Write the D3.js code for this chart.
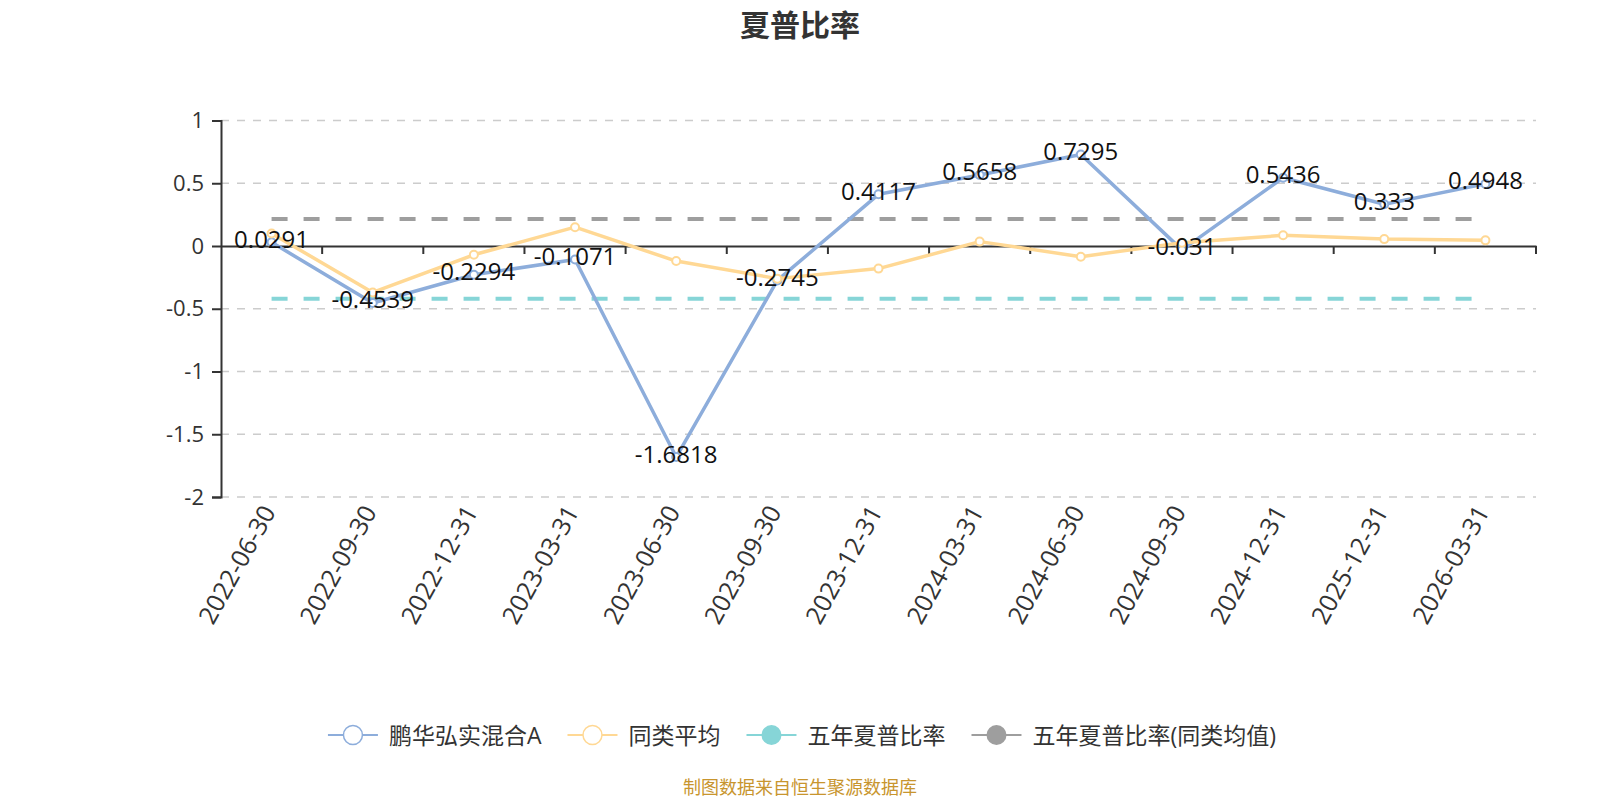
<!DOCTYPE html>
<html>
<head>
<meta charset="utf-8">
<script src="https://cdn.jsdelivr.net/npm/d3@7"></script>
<style>
  html, body { margin: 0; padding: 0; background: #fff; }
  svg { display: block; font-family: "Open Sans", "Noto Sans CJK SC", sans-serif; }
</style>
</head>
<body>
<svg id="chart" width="1600" height="800"></svg>
<script>
// ---- data ----
const categories = ["2022-06-30","2022-09-30","2022-12-31","2023-03-31","2023-06-30","2023-09-30","2023-12-31","2024-03-31","2024-06-30","2024-09-30","2024-12-31","2025-12-31","2026-03-31"];
const fundValues = [0.0291,-0.4539,-0.2294,-0.1071,-1.6818,-0.2745,0.4117,0.5658,0.7295,-0.031,0.5436,0.333,0.4948];
const peerAvgValues = [0.10,-0.37,-0.07,0.15,-0.12,-0.26,-0.18,0.035,-0.085,0.026,0.085,0.055,0.045];
const fiveYearSharpe = -0.42;
const fiveYearPeerSharpe = 0.215;
const yTicks = [-2,-1.5,-1,-0.5,0,0.5,1];
const seriesNames = ["鹏华弘实混合A","同类平均","五年夏普比率","五年夏普比率(同类均值)"];
const titleText = "夏普比率";
const footerText = "制图数据来自恒生聚源数据库";

// ---- styles ----
const colors = { fund: "#8DADDB", peer: "#FFD894", five: "#86D5D7", fivePeer: "#9E9E9E" };
const svg = d3.select("#chart");
const plotL = 221, plotR = 1536, plotT = 120.5, plotB = 497;

const x = d3.scaleBand().domain(categories).range([plotL, plotR]).padding(0);
const cx = d => x(d) + x.bandwidth() / 2;
const y = d3.scaleLinear().domain([-2, 1]).range([plotB, plotT]);

// title
svg.append("text").attr("x", 800).attr("y", 23)
  .attr("text-anchor", "middle").attr("dominant-baseline", "central")
  .attr("font-size", 30).attr("font-weight", "bold").attr("fill", "#333")
  .attr("font-family", "'Noto Sans CJK SC', sans-serif")
  .text(titleText);

// grid
svg.append("g").selectAll("line").data(yTicks.filter(v => v !== 0)).join("line")
  .attr("x1", plotL).attr("x2", plotR)
  .attr("y1", d => y(d)).attr("y2", d => y(d))
  .attr("stroke", "#cccccc").attr("stroke-width", 1.5).attr("stroke-dasharray", "8,8");

// y axis
const yAxis = d3.axisLeft(y).tickValues(yTicks).tickSize(9).tickPadding(8)
  .tickFormat(d => String(d));
const gy = svg.append("g").attr("transform", `translate(${plotL},0)`).call(yAxis);
gy.select(".domain").attr("stroke", "#333").attr("stroke-width", 2);
gy.selectAll(".tick line").attr("stroke", "#333").attr("stroke-width", 2);
gy.selectAll(".tick text").attr("font-size", 22).attr("fill", "#333")
  .attr("font-family", "'Open Sans', sans-serif");

// x axis at zero
const xAxis = d3.axisBottom(x).tickSize(0).tickFormat("");
const gx = svg.append("g").attr("transform", `translate(0,${y(0)})`).call(xAxis);
gx.select(".domain").attr("stroke", "#333").attr("stroke-width", 2);
const boundaries = categories.map(c => x(c)).concat([plotR]);
gx.append("g").selectAll("line").data(boundaries.slice(1)).join("line")
  .attr("x1", d => d).attr("x2", d => d).attr("y1", 0).attr("y2", 8)
  .attr("stroke", "#333").attr("stroke-width", 2);

// x labels (rotated) below the plot
svg.append("g").selectAll("text").data(categories).join("text")
  .attr("transform", d => `translate(${cx(d) - 4},${plotB + 10}) rotate(-61)`)
  .attr("text-anchor", "end").attr("dominant-baseline", "central")
  .attr("font-size", 25).attr("fill", "#333")
  .attr("font-family", "'Open Sans', sans-serif")
  .text(d => d);

// reference dashed lines
const flat = v => categories.map(c => ({ c, v }));
const line = d3.line().x(d => cx(d.c)).y(d => y(d.v));
svg.append("path").datum(flat(fiveYearSharpe)).attr("d", line)
  .attr("fill", "none").attr("stroke", colors.five).attr("stroke-width", 4).attr("stroke-dasharray", "16,16");
svg.append("path").datum(flat(fiveYearPeerSharpe)).attr("d", line)
  .attr("fill", "none").attr("stroke", colors.fivePeer).attr("stroke-width", 4).attr("stroke-dasharray", "16,16");

// series lines
const fundData = categories.map((c, i) => ({ c, v: fundValues[i] }));
const peerData = categories.map((c, i) => ({ c, v: peerAvgValues[i] }));
[[fundData, colors.fund], [peerData, colors.peer]].forEach(([data, col]) => {
  svg.append("path").datum(data).attr("d", line)
    .attr("fill", "none").attr("stroke", col).attr("stroke-width", 3.5)
    .attr("stroke-linejoin", "round");
  svg.append("g").selectAll("circle").data(data).join("circle")
    .attr("cx", d => cx(d.c)).attr("cy", d => y(d.v)).attr("r", 4)
    .attr("fill", "#fff").attr("stroke", col).attr("stroke-width", 2);
});

// data labels for fund
svg.append("g").selectAll("text").data(fundData).join("text")
  .attr("x", d => cx(d.c)).attr("y", d => y(d.v) - 4)
  .attr("text-anchor", "middle").attr("dominant-baseline", "central")
  .attr("font-size", 24).attr("fill", "#111")
  .attr("font-family", "'Open Sans', sans-serif")
  .text(d => String(d.v));

// legend
const legend = svg.append("g");
const legendItems = [
  { name: seriesNames[0], col: colors.fund, filled: false },
  { name: seriesNames[1], col: colors.peer, filled: false },
  { name: seriesNames[2], col: colors.five, filled: true },
  { name: seriesNames[3], col: colors.fivePeer, filled: true }
];
const ly = 735;
let lx = 0;
legendItems.forEach(it => {
  const g = legend.append("g").attr("transform", `translate(${lx},${ly})`);
  g.append("line").attr("x1", 0).attr("x2", 50).attr("y1", 0).attr("y2", 0)
    .attr("stroke", it.col).attr("stroke-width", 2);
  g.append("circle").attr("cx", 25).attr("cy", 0).attr("r", it.filled ? 10 : 9.5)
    .attr("fill", it.filled ? it.col : "#fff").attr("stroke", it.col).attr("stroke-width", it.filled ? 0 : 1.5);
  const t = g.append("text").attr("x", 61).attr("y", 0).attr("dominant-baseline", "central")
    .attr("font-size", 23).attr("fill", "#333")
    .attr("font-family", "'Open Sans', 'Noto Sans CJK SC', sans-serif")
    .text(it.name);
  const w = 61 + t.node().getComputedTextLength();
  lx += w + 26;
});
const totalW = lx - 26;
legend.attr("transform", `translate(${800 - totalW / 2 + 2},0)`);

// footer
svg.append("text").attr("x", 800).attr("y", 786)
  .attr("text-anchor", "middle").attr("dominant-baseline", "central")
  .attr("font-size", 18).attr("fill", "#C8952E")
  .attr("font-family", "'Noto Sans CJK SC', sans-serif")
  .text(footerText);
</script>
</body>
</html>
